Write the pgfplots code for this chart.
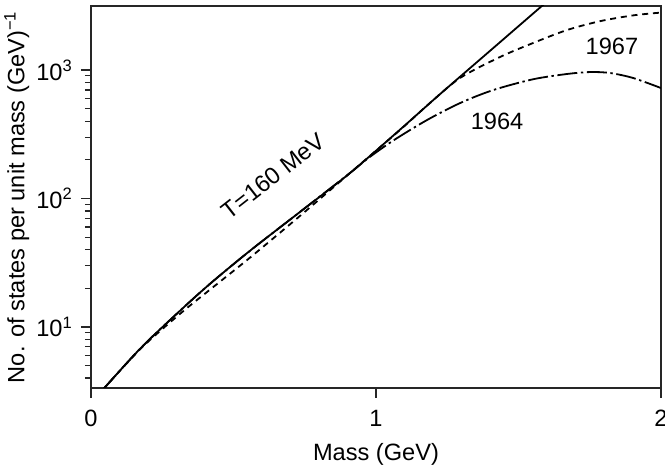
\documentclass[border=0pt]{standalone}
\usepackage{fontspec}
\setmainfont{Liberation Sans}
\usepackage{pgfplots}
\pgfplotsset{compat=1.18}
\begin{document}
\fontsize{11.8}{14}\selectfont
\begin{tikzpicture}
\begin{axis}[
  scale only axis, width=285pt, height=191pt,
  xmin=0, xmax=2, ymin=3.35, ymax=3150, ymode=log,
  xtick={0,1,2}, xticklabels={0,1,2},
  tick align=outside, tick pos=left,
  major tick length=5pt, minor tick length=3pt,
  yticklabel={10\textsuperscript{\pgfmathparse{int(round(\tick/ln(10)))}\pgfmathresult}},
  xticklabel style={yshift=-2pt},
  xlabel={Mass (GeV)},
  ylabel={No. of states per unit mass (GeV)\textsuperscript{−1}},
  ylabel shift=-4.5pt,
  tick label style={font=\fontsize{11.8}{14}\selectfont},
  label style={font=\fontsize{11.8}{14}\selectfont},
  axis line style={black!85, line width=0.6pt},
  every tick/.style={black!85, line width=0.6pt},
  clip=true,
]
% T = 160 MeV exponential
\addplot[black, line width=0.9pt, smooth] coordinates {
 (0.040,3.22) (0.175,6.87) (0.316,13.6) (0.421,22.0) (0.561,39.7) (0.733,78.5)
 (0.909,158) (1.084,343) (1.225,650) (1.435,1645) (1.582,3150) (1.62,3700)
};
% 1967
\addplot[black, line width=0.9pt, smooth, dash pattern=on 3pt off 2.4pt] coordinates {
 (0.040,3.22) (0.175,6.80) (0.316,12.85) (0.421,19.8) (0.561,35.1) (0.733,73.1)
 (0.909,158) (1.084,341) (1.189,553) (1.295,867) (1.435,1262)
 (1.551,1622) (1.670,2046) (1.786,2399) (1.902,2661) (2.0,2799)
};
% 1964
\addplot[black, line width=0.9pt, smooth, dash pattern=on 10pt off 1.8pt on 1.2pt off 1.8pt] coordinates {
 (0.040,3.22) (0.175,6.87) (0.316,13.6) (0.421,22.0) (0.561,39.7) (0.733,78.5)
 (0.909,158) (0.970,204) (1.060,282) (1.179,408) (1.295,553) (1.411,698)
 (1.551,847) (1.670,931) (1.751,964) (1.821,948) (1.902,867) (2.0,724)
};
\node[rotate=38] at (axis cs:0.639,150) {T=160 MeV};
\node at (axis cs:1.828,1538) {1967};
\node at (axis cs:1.425,401) {1964};
\coordinate (sw) at (rel axis cs:0,0);
\coordinate (ne) at (rel axis cs:1,1);
\end{axis}
\pgfresetboundingbox
\path[use as bounding box] ([xshift=-45.5pt,yshift=-38.5pt]sw) rectangle ([xshift=2pt,yshift=3pt]ne);
\end{tikzpicture}
\end{document}
